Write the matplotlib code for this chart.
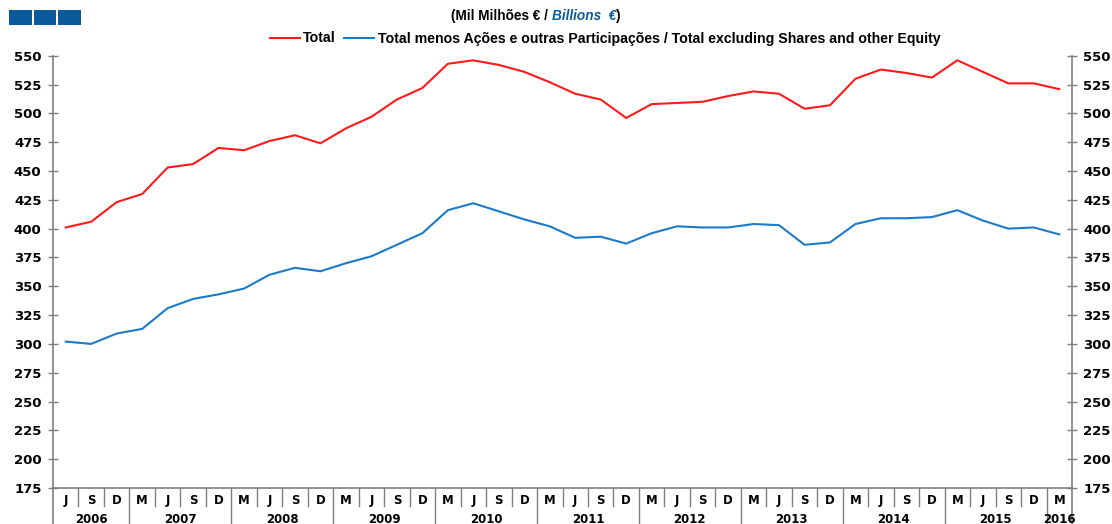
import numpy as np
import matplotlib
matplotlib.use("Agg")
import matplotlib.pyplot as plt
from matplotlib.patches import Rectangle
from matplotlib.lines import Line2D
import matplotlib.transforms as mtransforms

# ---- data ----
months = ["J", "S", "D"] + ["M", "J", "S", "D"] * 9 + ["M"]
years = ["2006", "2007", "2008", "2009", "2010", "2011", "2012",
         "2013", "2014", "2015", "2016"]
year_counts = [3, 4, 4, 4, 4, 4, 4, 4, 4, 4, 1]

total = [401, 406, 423, 430, 453, 456, 470, 468, 476, 481,
         474, 487, 497, 512, 522, 543, 546, 542, 536, 527,
         517, 512, 496, 508, 509, 510, 515, 519, 517, 504,
         507, 530, 538, 535, 531, 546, 536, 526, 526, 521]
total_excl = [302, 300, 309, 313, 331, 339, 343, 348, 360, 366,
              363, 370, 376, 386, 396, 416, 422, 415, 408, 402,
              392, 393, 387, 396, 402, 401, 401, 404, 403, 386,
              388, 404, 409, 409, 410, 416, 407, 400, 401, 395]

yticks = list(range(175, 551, 25))

label_total = "Total"
label_excl = "Total menos Ações e outras Participações / Total excluding Shares and other Equity"

RED = "#FF1A1A"
BLUE = "#1C7ACB"
DARKBLUE = "#0B5A9C"
SPINE = "#7F7F7F"

W, H = 1112, 524
fig = plt.figure(figsize=(W / 100, H / 100), dpi=100)
FONT = "Liberation Sans"
plt.rcParams["font.family"] = [FONT, "DejaVu Sans"]

left, right = 53 / W, 1072 / W
bottom, top = 1 - 488 / H, 1 - 55.7 / H
ax = fig.add_axes([left, bottom, right - left, top - bottom])

x = np.arange(len(months))
ax.plot(x, total, color=RED, lw=1.5, solid_joinstyle="round")
ax.plot(x, total_excl, color=BLUE, lw=1.5, solid_joinstyle="round")

ax.set_xlim(-0.5, len(months) - 0.5)
ax.set_ylim(175, 550)
ax.set_yticks(yticks)
ax.set_xticks([])

ax.spines["top"].set_visible(False)
for s in ["left", "right", "bottom"]:
    ax.spines[s].set_color(SPINE)
    ax.spines[s].set_linewidth(1.2)

ax.tick_params(axis="y", which="both", direction="inout", length=6.5,
               width=1, color=SPINE, labelsize=9.5, pad=5,
               left=True, right=True, labelleft=True, labelright=True)
for lab in ax.get_yticklabels():
    lab.set_fontweight("bold")
    lab.set_family(["DejaVu Sans"])

# category axis table below
trans = mtransforms.blended_transform_factory(ax.transData, ax.transAxes)
ah = 488 - 55.7
month_sep_y = -(505.7 - 488) / ah
year_sep_y = -(524 - 488) / ah
month_lab_y = -(500.5 - 488) / ah
year_lab_y = -(519.5 - 488) / ah

for i, m in enumerate(months):
    ax.text(i, month_lab_y, m, transform=trans, ha="center", va="center",
            fontsize=8.5, fontweight="bold", family=["DejaVu Sans"])

year_bounds = np.concatenate([[0], np.cumsum(year_counts)]) - 0.5
for i in range(len(months) - 1):
    xb = i + 0.5
    ybot = year_sep_y if xb in year_bounds else month_sep_y
    ax.plot([xb, xb], [0, ybot], transform=trans, color=SPINE, lw=1,
            clip_on=False)
for xb in [-0.5, len(months) - 0.5]:
    ax.plot([xb, xb], [0, year_sep_y], transform=trans, color=SPINE,
            lw=1.2, clip_on=False)

for k, yr in enumerate(years):
    c = (year_bounds[k] + year_bounds[k + 1]) / 2
    ax.text(c, year_lab_y, yr, transform=trans, ha="center", va="center",
            fontsize=8.5, fontweight="bold", family=["DejaVu Sans"])

# title
TS = 9.8
t1 = fig.text(0.0, 1 - 16 / H, "(Mil Milhões € / ", fontsize=TS,
              fontweight="bold", ha="left", va="center")
t2 = fig.text(0.0, 1 - 16 / H, "Billions  €", fontsize=TS,
              fontweight="bold", style="italic", color=DARKBLUE,
              ha="left", va="center")
t3 = fig.text(0.0, 1 - 16 / H, ")", fontsize=TS, fontweight="bold",
              ha="left", va="center")
fig.canvas.draw()
r = fig.canvas.get_renderer()
w1 = t1.get_window_extent(r).width
w2 = t2.get_window_extent(r).width
w3 = t3.get_window_extent(r).width
start = 536 - (w1 + w2 + w3) / 2
t1.set_x(start / W)
t2.set_x((start + w1) / W)
t3.set_x((start + w1 + w2) / W)

# blue squares
for x0 in [9, 33.5, 58]:
    fig.patches.append(Rectangle((x0 / W, 1 - 25 / H), 22.5 / W, 15 / H,
                                 transform=fig.transFigure,
                                 facecolor=DARKBLUE, edgecolor="none"))

handles = [Line2D([], [], color=RED, lw=1.5),
           Line2D([], [], color=BLUE, lw=1.5)]
leg = fig.legend(handles, [label_total, label_excl], loc="center",
                 bbox_to_anchor=(605 / W, 1 - 38.5 / H), ncol=2,
                 frameon=False, handlelength=2.1, handletextpad=0.25,
                 columnspacing=0.6, borderaxespad=0,
                 prop={"weight": "bold", "size": 10.2})

fig.savefig("out.png", dpi=100)
